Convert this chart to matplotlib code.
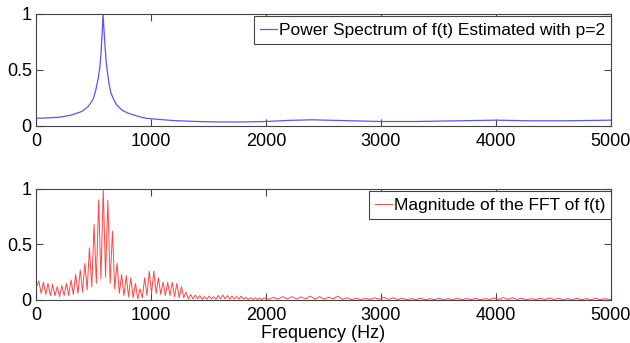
import matplotlib
matplotlib.use("Agg")
import matplotlib.pyplot as plt
import numpy as np

plt.rcParams['font.family'] = ['Liberation Sans', 'DejaVu Sans']

# Power spectrum estimate (p=2), normalised
ps_freq = [0, 100, 200, 300, 400, 450, 480, 500, 520, 540, 555, 565, 575, 583,
           592, 600, 610, 620, 635, 650, 670, 700, 750, 800, 875, 950, 1050, 1200,
           1400, 1600, 1800, 2000, 2200, 2400, 2600, 2800, 3000, 3300, 3600, 4000,
           4300, 4600, 5000]
ps_mag = [0.069, 0.072, 0.078, 0.095, 0.13, 0.17, 0.21, 0.25, 0.32, 0.42, 0.52,
          0.64, 0.82, 1.0, 0.85, 0.72, 0.58, 0.49, 0.38, 0.30, 0.25, 0.19, 0.14,
          0.115, 0.09, 0.07, 0.06, 0.048, 0.04, 0.036, 0.036, 0.040, 0.050, 0.055,
          0.050, 0.045, 0.040, 0.040, 0.045, 0.052, 0.046, 0.046, 0.052]

# FFT magnitude: local maxima and minima
fft_peak_freq = [25, 65, 105, 145, 185, 225, 265, 305, 345, 385, 425, 465, 505, 545,
                 585, 625, 665, 705, 745, 785, 825, 865, 905, 945, 985, 1025, 1065,
                 1105, 1145, 1185, 1225, 1265, 1305, 1345, 1385, 1425, 1465, 1505,
                 1545, 1585, 1625, 1665, 1705, 1745, 1785, 1825, 1865, 1905, 1945,
                 1985, 2065, 2145, 2225, 2305, 2385, 2465, 2545, 2625, 2705, 2785,
                 2865, 2945, 3025, 3105, 3185, 3265, 3345, 3425, 3505, 3585, 3665,
                 3745, 3825, 3905, 3985, 4065, 4145, 4225, 4305, 4385, 4465, 4545,
                 4625, 4705, 4785, 4865, 4945]
fft_peak_mag = [0.17, 0.16, 0.15, 0.14, 0.12, 0.13, 0.15, 0.18, 0.23, 0.27, 0.33,
                0.47, 0.68, 0.90, 1.00, 0.90, 0.62, 0.33, 0.23, 0.22, 0.20, 0.15,
                0.10, 0.20, 0.26, 0.26, 0.20, 0.16, 0.16, 0.16, 0.15, 0.12, 0.07,
                0.05, 0.045, 0.04, 0.03, 0.035, 0.03, 0.04, 0.045, 0.04, 0.035,
                0.03, 0.035, 0.025, 0.02, 0.02, 0.018, 0.02, 0.025, 0.03, 0.03,
                0.028, 0.035, 0.03, 0.025, 0.035, 0.02, 0.015, 0.015, 0.02, 0.025,
                0.02, 0.015, 0.012, 0.015, 0.012, 0.015, 0.012, 0.015, 0.012,
                0.015, 0.012, 0.018, 0.022, 0.02, 0.015, 0.012, 0.015, 0.018,
                0.015, 0.012, 0.015, 0.012, 0.015, 0.012]
fft_trough_freq = [0, 45, 85, 125, 165, 205, 245, 285, 325, 365, 405, 445, 485, 525,
                   565, 605, 645, 685, 725, 765, 805, 845, 885, 925, 965, 1005, 1045,
                   1085, 1125, 1165, 1205, 1245, 1285, 1325, 1365, 1405, 1445, 1485,
                   1525, 1565, 1605, 1645, 1685, 1725, 1765, 1805, 1845, 1885, 1925,
                   1965, 2025, 2105, 2185, 2265, 2345, 2425, 2505, 2585, 2665, 2745,
                   2825, 2905, 2985, 3065, 3145, 3225, 3305, 3385, 3465, 3545, 3625,
                   3705, 3785, 3865, 3945, 4025, 4105, 4185, 4265, 4345, 4425, 4505,
                   4585, 4665, 4745, 4825, 4905, 5000]
fft_trough_mag = [0.11, 0.06, 0.05, 0.04, 0.04, 0.03, 0.04, 0.04, 0.05, 0.06, 0.07,
                  0.09, 0.12, 0.15, 0.19, 0.21, 0.15, 0.10, 0.06, 0.04, 0.03, 0.02,
                  0.01, 0.02, 0.04, 0.06, 0.06, 0.05, 0.04, 0.04, 0.03, 0.02, 0.02,
                  0.01, 0.01, 0.01, 0.005, 0.008, 0.01, 0.008, 0.01, 0.01, 0.008,
                  0.01, 0.008, 0.008, 0.005, 0.005, 0.004, 0.004, 0.005, 0.008,
                  0.01, 0.008, 0.01, 0.008, 0.008, 0.01, 0.006, 0.004, 0.004, 0.005,
                  0.006, 0.005, 0.004, 0.003, 0.004, 0.003, 0.004, 0.003, 0.004,
                  0.003, 0.004, 0.003, 0.005, 0.006, 0.005, 0.004, 0.003, 0.004,
                  0.005, 0.004, 0.003, 0.004, 0.003, 0.004, 0.003, 0.004]

x_ticks = [0, 1000, 2000, 3000, 4000, 5000]
y_ticks = [0, 0.5, 1]
y_tick_labels = ['0', '0.5', '1']

# merge maxima and minima into one trace ordered by frequency
fft_freq = np.array(fft_peak_freq + fft_trough_freq, dtype=float)
fft_mag = np.array(fft_peak_mag + fft_trough_mag, dtype=float)
order = np.argsort(fft_freq)
fft_freq, fft_mag = fft_freq[order], fft_mag[order]

fig = plt.figure(figsize=(6.30, 3.43), dpi=100)
ax1 = fig.add_axes([0.0571, 0.6327, 0.9127, 0.3265])
ax2 = fig.add_axes([0.0571, 0.1254, 0.9127, 0.3236])

ax1.plot(ps_freq, ps_mag, color='#5555ff', linewidth=0.9,
         label='Power Spectrum of f(t) Estimated with p=2')
ax2.plot(fft_freq, fft_mag, color='#ff4545', linewidth=0.7,
         label='Magnitude of the FFT of f(t)')

for ax in (ax1, ax2):
    ax.set_xlim(0, 5000)
    ax.set_ylim(0, 1)
    ax.set_xticks(x_ticks)
    ax.set_yticks(y_ticks)
    ax.set_yticklabels(y_tick_labels)
    ax.tick_params(direction='in', top=True, right=True, length=5, width=0.8,
                   color='#444444', labelsize=13)
    ax.tick_params(axis='x', pad=5)
    ax.tick_params(axis='y', pad=3)
    for s in ax.spines.values():
        s.set_color('#444444')
        s.set_linewidth(0.8)
    # legend flush with the right spine, a few pixels below the top one
    dy = 2.5 / (ax.get_position().height * fig.get_figheight() * fig.dpi)
    leg = ax.legend(loc='upper right', bbox_to_anchor=(1.0, 1.0 - dy), borderaxespad=0,
                    fontsize=12.5, handlelength=1.0, handletextpad=0.08,
                    borderpad=0.35, fancybox=False, framealpha=1)
    leg.get_frame().set_edgecolor('#444444')
    leg.get_frame().set_linewidth(0.8)

ax2.set_xlabel('Frequency (Hz)', fontsize=13, labelpad=1)

fig.savefig('out.png', dpi=100)
